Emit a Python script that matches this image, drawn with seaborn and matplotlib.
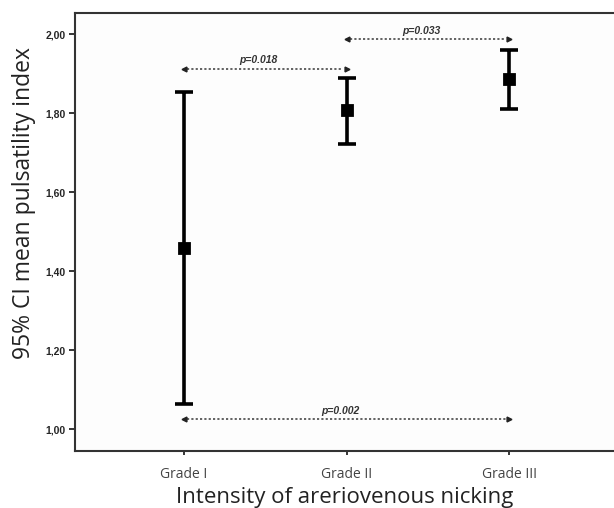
import pandas as pd
import matplotlib
matplotlib.use('Agg')
import matplotlib.pyplot as plt
import seaborn as sns

grades = ['Grade I', 'Grade II', 'Grade III']
ci_lower = [1.064, 1.723, 1.811]
means = [1.459, 1.808, 1.886]
ci_upper = [1.855, 1.890, 1.961]

# pairwise comparisons drawn as dotted double arrows
pairs = [(0, 1), (1, 2), (0, 2)]
p_labels = ['p=0.018', 'p=0.033', 'p=0.002']
arrow_y = [1.913, 1.987, 1.025]

y_ticks = [1.0, 1.2, 1.4, 1.6, 1.8, 2.0]

# long form: the median of (lower, mean, upper) is the mean, the 0-100 interval is the CI
rows = []
for g, lo, m, hi in zip(grades, ci_lower, means, ci_upper):
    for v in (lo, m, hi):
        rows.append({'grade': g, 'value': v})
df = pd.DataFrame(rows)

sns.set_style('white')
fig = plt.figure(figsize=(6.14, 5.08), dpi=100)
ax = fig.add_axes([0.1221, 0.1128, 0.8779, 0.861])
ax.set_facecolor('#fdfdfd')

sns.pointplot(data=df, x='grade', y='value', order=grades, estimator='median',
              errorbar=('pi', 100), linestyle='none', marker='s', markersize=7,
              capsize=0.11, color='black',
              err_kws={'linewidth': 2.6, 'solid_capstyle': 'butt'}, ax=ax)

for (a, b), lab, y in zip(pairs, p_labels, arrow_y):
    ax.plot([a + 0.02, b - 0.02], [y, y], color='#555555', lw=1.3,
            linestyle=(0, (1.2, 1.2)))
    ax.plot([a], [y], marker='<', color='#222222', markersize=3.5)
    ax.plot([b], [y], marker='>', color='#222222', markersize=3.5)
    ax.annotate(lab, xy=((a + b) / 2 - 0.04, y), xytext=(0, 2.5), textcoords='offset points',
                ha='center', va='bottom', fontsize=7.5, style='italic', fontweight='bold',
                family='Liberation Sans', color='#333333')

ax.set_xlim(-0.67, 2.643)
ax.set_ylim(0.946, 2.053)
ax.set_yticks(y_ticks)
ax.set_yticklabels([f'{t:.2f}'.replace('.', ',') for t in y_ticks],
                   fontsize=7.5, fontweight='bold', family='Liberation Sans')
ax.tick_params(axis='y', direction='out', length=4.5, width=1.3, pad=2, left=True)
ax.tick_params(axis='x', direction='out', length=3, width=1.3, pad=9, bottom=True,
               labelsize=10, labelcolor='#444444')
for lab in ax.get_xticklabels():
    lab.set_family('Open Sans')

for side in ['left', 'top', 'bottom']:
    ax.spines[side].set_color('#333333')
    ax.spines[side].set_linewidth(1.5)
ax.spines['right'].set_visible(False)

ax.set_xlabel('Intensity of areriovenous nicking', fontsize=16, family='Open Sans',
              color='#222222', labelpad=3)
ax.set_ylabel('95% CI mean pulsatility index', fontsize=16.5, family='Open Sans',
              color='#222222')
ax.yaxis.set_label_coords(-0.073, 0.566)

fig.savefig('out.png', dpi=100)
